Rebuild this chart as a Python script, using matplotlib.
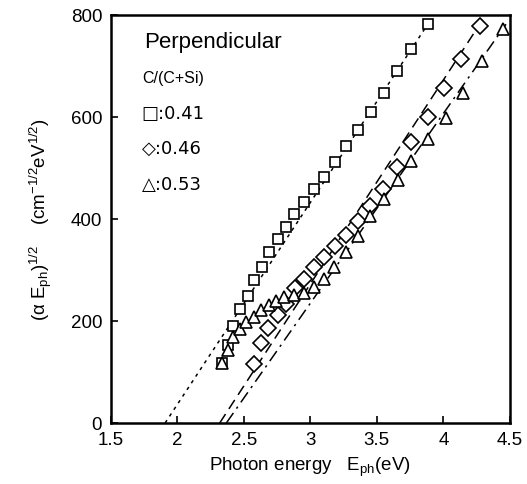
import numpy as np
import matplotlib
matplotlib.use('Agg')
import matplotlib.pyplot as plt

plt.rcParams['font.family'] = ['Liberation Sans', 'DejaVu Sans']
plt.rcParams['mathtext.fontset'] = 'custom'
plt.rcParams['mathtext.rm'] = 'Liberation Sans'
plt.rcParams['mathtext.it'] = 'Liberation Sans'

# C/(C+Si) = 0.41 (squares)
sq_e = [2.340, 2.385, 2.423, 2.476, 2.529, 2.575, 2.634, 2.687, 2.755, 2.815, 2.875,
        2.951, 3.026, 3.101, 3.184, 3.267, 3.357, 3.456, 3.553, 3.651, 3.757, 3.885]
sq_y = [118, 153, 190, 224, 249, 280, 306, 335, 361, 384, 410,
        433, 459, 482, 512, 543, 573, 610, 647, 690, 733, 782]

# C/(C+Si) = 0.46 (diamonds)
di_e = [2.574, 2.627, 2.679, 2.755, 2.815, 2.883, 2.951, 3.026, 3.101, 3.184,
        3.267, 3.357, 3.448, 3.546, 3.651, 3.757, 3.885, 4.006, 4.134, 4.277]
di_y = [116, 157, 186, 212, 233, 265, 282, 306, 325, 347,
        369, 396, 425, 459, 502, 551, 600, 657, 714, 778]

# C/(C+Si) = 0.53 (triangles)
tr_e = [2.340, 2.385, 2.423, 2.476, 2.521, 2.574, 2.627, 2.687, 2.740, 2.800, 2.875,
        2.951, 3.026, 3.101, 3.177, 3.267, 3.357, 3.448, 3.553, 3.659, 3.757, 3.885,
        4.021, 4.149, 4.292, 4.450]
tr_y = [118, 143, 169, 184, 198, 208, 221, 231, 239, 247, 251,
        255, 267, 282, 306, 335, 367, 406, 439, 476, 514, 557,
        598, 647, 710, 771]

# linear fits: gap energy (x-intercept), upper end of fit line, slope
fit_e0 = [1.91, 2.32, 2.37]
fit_e1 = [3.89, 4.30, 4.47]
fit_slope = [396, 400, 372]

fig = plt.figure(figsize=(5.27, 4.85), dpi=100)
ax = fig.add_axes([0.2097, 0.1258, 0.758, 0.842])

styles = [(0, (2.2, 3)), (0, (7, 4)), (0, (8, 3.5, 1.5, 3.5))]
for e0, e1, k, ls in zip(fit_e0, fit_e1, fit_slope, styles):
    xs = np.array([e0, e1])
    ax.plot(xs, k * (xs - e0), color='black', lw=1.1, linestyle=ls, zorder=1)

mk = dict(linestyle='none', markerfacecolor='white', markeredgecolor='black',
          markeredgewidth=1.2, zorder=3)
ax.plot(sq_e, sq_y, marker='s', markersize=7.5, **mk)
ax.plot(di_e, di_y, marker='D', markersize=8.3, **mk)
ax.plot(tr_e, tr_y, marker='^', markersize=8, **mk)

ax.set_xlim(1.5, 4.5)
ax.set_ylim(0, 800)
ax.set_xticks([1.5, 2, 2.5, 3, 3.5, 4, 4.5])
ax.set_xticklabels(['1.5', '2', '2.5', '3', '3.5', '4', '4.5'])
ax.set_yticks([0, 200, 400, 600, 800])
ax.tick_params(direction='in', length=5, width=1.2, labelsize=13.5, pad=6)
for s in ax.spines.values():
    s.set_linewidth(1.8)

ax.set_xlabel('Photon energy   E$_{\\mathrm{ph}}$(eV)', fontsize=13.5, labelpad=5)
ax.set_ylabel('($\\alpha$ E$_{\\mathrm{ph}}$)$^{1/2}$    (cm$^{-1/2}$eV$^{1/2}$)',
              fontsize=13.5, labelpad=12)

ax.text(0.083, 0.935, 'Perpendicular', transform=ax.transAxes, fontsize=16,
        ha='left', va='center')
ax.text(0.080, 0.845, 'C/(C+Si)', transform=ax.transAxes, fontsize=11.5,
        ha='left', va='center')
leg_labels = ['□:0.41', '◇:0.46', '△:0.53']
for i, lab in enumerate(leg_labels):
    ax.text(0.078, 0.760 - i * 0.087, lab, transform=ax.transAxes, fontsize=13,
            ha='left', va='center', family=['DejaVu Sans'])

fig.savefig('out.png', dpi=100)
